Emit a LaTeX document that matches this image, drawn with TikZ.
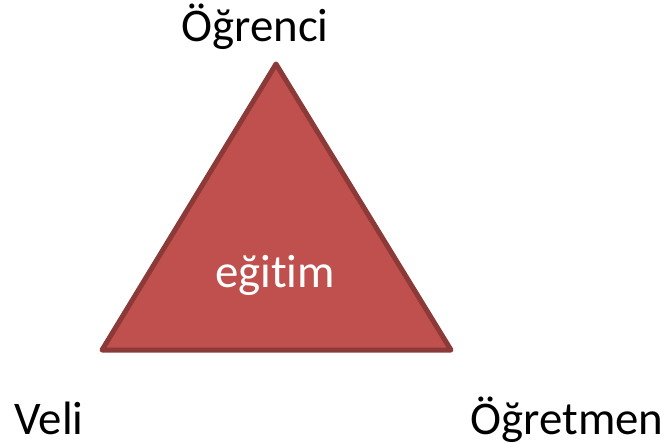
\documentclass[tikz,border=0pt]{standalone}
\usepackage{fontspec}
\setmainfont[Ligatures={NoCommon}]{Carlito}
\definecolor{trifill}{HTML}{C0504D}
\definecolor{triedge}{HTML}{8C3A38}
\begin{document}
\begin{tikzpicture}[x=1bp,y=-1bp,
  lbl/.style={font=\fontsize{47}{50}\selectfont, inner sep=0pt, anchor=base},
  tri/.style={fill=trifill, draw=triedge, line width=5bp, line join=round}]
\useasboundingbox (0,0) rectangle (666,446);
\coordinate (A) at (276,64);
\coordinate (B) at (102,350);
\coordinate (C) at (451,350);
\path[tri] (A) -- (B) -- (C) -- cycle;
\node[lbl, text=white] (mid) at (275,288) {eğitim};
\node[lbl] (top) at (255,42) {Öğrenci};
\node[lbl] (left) at (49,434) {Veli};
\node[lbl] (right) at (567,434) {Öğretmen};
\end{tikzpicture}
\end{document}
